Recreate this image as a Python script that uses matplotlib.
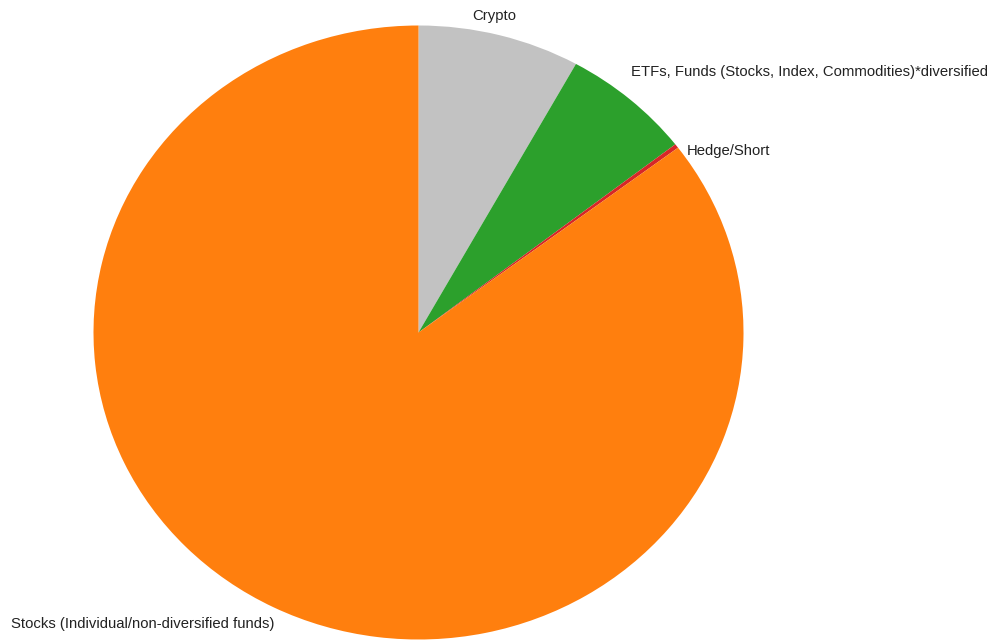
import matplotlib.pyplot as plt

# portfolio split by asset type (percent)
labels = ['Crypto', 'ETFs, Funds (Stocks, Index, Commodities)*diversified',
          'Hedge/Short', 'Stocks (Individual/non-diversified funds)']
shares = [8.05, 6.45, 0.22, 85.28]
colors = ['#c2c2c2', '#2ca02c', '#d62728', '#ff7f0e']

plt.rcParams['font.family'] = ['Liberation Sans', 'DejaVu Sans']

fig = plt.figure(figsize=(9.94, 6.42), dpi=100)
ax = fig.add_axes([93.5 / 994, 2.5 / 642, 650 / 994, 614 / 642])

wedges, texts = ax.pie(shares, labels=labels, colors=colors, startangle=90,
                       counterclock=False, labeldistance=1.05,
                       textprops={'fontsize': 10.7, 'color': '#222222'})
ax.set_aspect('auto')
ax.set_xlim(-1, 1)
ax.set_ylim(-1, 1)

# spread the labels so they don't crowd
x, y = texts[0].get_position()
texts[0].set_ha('center')
texts[0].set_position((x - 0.03, y + 0.013))
x, y = texts[1].get_position()
texts[1].set_position((x - 0.03, y + 0.05))
x, y = texts[2].get_position()
texts[2].set_position((x - 0.01, y - 0.045))
x, y = texts[3].get_position()
texts[3].set_position((x + 0.025, y - 0.01))

fig.savefig('out.png', dpi=100)
